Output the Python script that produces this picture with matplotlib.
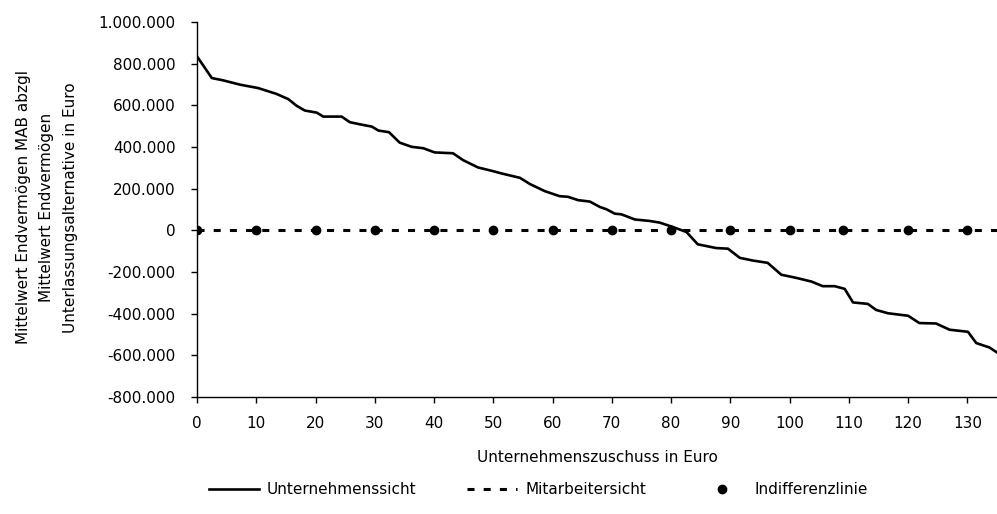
import matplotlib.pyplot as plt
from matplotlib.ticker import FuncFormatter, MultipleLocator

plt.rcParams['font.family'] = ['DejaVu Sans']

# Unternehmenssicht (y in Euro)
unternehmen_x = [0, 2.5, 4.4, 7.3, 10.3, 13.4, 15.4, 16.8, 18.2, 20.2, 21.3, 24.4, 25.8, 28.0, 29.5,
                 30.6, 32.4, 34.2, 36.2, 38.2, 40.1, 43.2, 44.9, 47.4, 49.7, 51.4, 54.5, 56.2, 58.7,
                 61.2, 62.6, 64.3, 66.3, 68.0, 69.1, 70.5, 71.6, 73.9, 76.4, 78.1, 80.3, 82.6, 84.5,
                 87.6, 89.6, 91.6, 93.8, 96.3, 98.6, 101.1, 103.7, 105.6, 107.6, 109.3, 110.7, 113.2,
                 114.6, 116.6, 120.0, 121.9, 124.7, 127.0, 130.1, 131.5, 133.7, 135.0]
unternehmen_y = [835, 731, 720, 699, 683, 655, 630, 598, 575, 565, 546, 546, 519, 506, 498,
                 479, 471, 421, 401, 394, 374, 370, 337, 302, 286, 273, 252, 222, 188,
                 164, 161, 145, 138, 112, 101, 80, 77, 52, 45, 37, 16, -8, -67,
                 -85, -88, -132, -145, -156, -213, -228, -246, -268, -268, -281, -346, -353,
                 -382, -398, -410, -445, -447, -477, -487, -541, -562, -586]
unternehmen_y = [v * 1000 for v in unternehmen_y]

# Mitarbeitersicht
mitarbeiter_x = [0, 135]
mitarbeiter_y = [0, 0]

# Indifferenzlinie
indifferenz_x = [0, 10, 20, 30, 40, 50, 60, 70, 80, 90, 100, 109, 120, 130]
indifferenz_y = [0] * len(indifferenz_x)

fig = plt.figure(figsize=(9.97, 5.14), dpi=100)
ax = fig.add_axes([0.1976, 0.2276, 0.8024, 0.7296])

ax.plot(unternehmen_x, unternehmen_y, '-', color='black', linewidth=1.9, label='Unternehmenssicht')
l2, = ax.plot(mitarbeiter_x, mitarbeiter_y, '--', color='black', linewidth=2.2, label='Mitarbeitersicht')
l2.set_dashes((2.3, 3.0))
ax.plot(indifferenz_x, indifferenz_y, 'o', color='black', markersize=6, label='Indifferenzlinie')

ax.set_xlim(0, 135)
ax.set_ylim(-800000, 1000000)
ax.xaxis.set_major_locator(MultipleLocator(10))
ax.yaxis.set_major_locator(MultipleLocator(200000))
ax.yaxis.set_major_formatter(FuncFormatter(lambda v, p: '{:,}'.format(int(v)).replace(',', '.')))

for s in ['top', 'right']:
    ax.spines[s].set_visible(False)
ax.spines['left'].set_linewidth(1.0)
ax.spines['bottom'].set_linewidth(1.0)
ax.tick_params(axis='both', direction='out', length=4.5, width=1.0, labelsize=11)
ax.tick_params(axis='y', pad=11)
ax.tick_params(axis='x', pad=9)

ax.set_xlabel('Unternehmenszuschuss in Euro', fontsize=11, labelpad=14)
fig.text(0.047, 0.5967, 'Mittelwert Endvermögen MAB abzgl\nMittelwert Endvermögen\nUnterlassungsalternative in Euro',
         rotation=90, ha='center', va='center', multialignment='center', fontsize=11, linespacing=1.7)

fig.legend(loc='center', bbox_to_anchor=(0.54, 0.047), ncol=3, frameon=False, fontsize=11,
           handlelength=3.3, handletextpad=0.5, columnspacing=3.3, numpoints=1)

fig.savefig('out.png', dpi=100)
